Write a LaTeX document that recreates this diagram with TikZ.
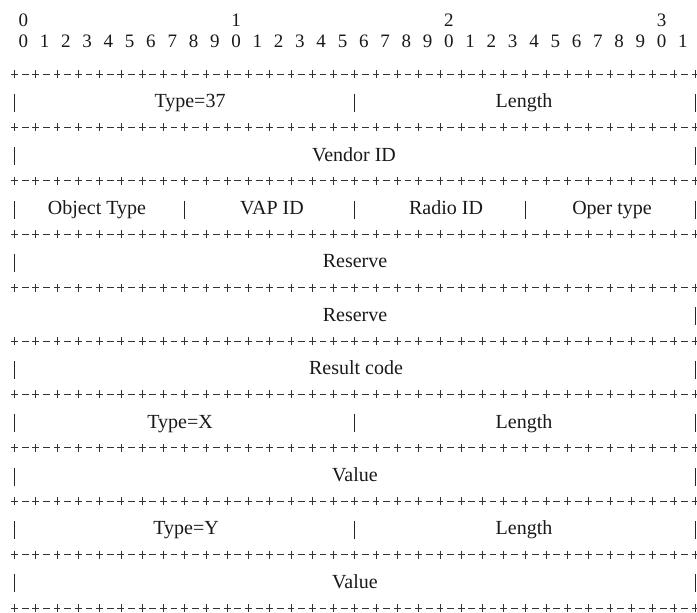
\documentclass[tikz,border=0pt]{standalone}
\usepackage{fontspec}
\setmainfont{Liberation Serif}
\begin{document}
\begin{tikzpicture}[x=1pt,y=-1pt,
  sepline/.style={line width=0.65pt,black!80},
  vbar/.style={line width=0.9pt,black!85},
  lbl/.style={inner sep=0pt,anchor=base,font=\fontsize{20}{24}\selectfont,text=black!90},
  dig/.style={inner sep=0pt,anchor=base,font=\fontsize{19}{22}\selectfont,text=black!90}]
\useasboundingbox (0,0) rectangle (697,613);
% bit numbers
\foreach \j in {0,...,31}{
  \pgfmathtruncatemacro\d{mod(\j,10)}
  \node[dig] (d\j) at ({23.3+21.28*\j},47.5) {\d};
}
\node[dig] (t0) at (23.3,27) {0};
\node[dig] (t1) at ({23.3+21.28*10},27) {1};
\node[dig] (t2) at ({23.3+21.28*20},27) {2};
\node[dig] (t3) at ({23.3+21.28*30},27) {3};
% separator lines
\foreach \k in {0,...,10}{
  \pgfmathsetmacro\yy{74+53.4*\k}
  \foreach \i in {0,...,32}{
    \pgfmathsetmacro\xx{14.5+21.27*\i}
    \draw[sepline] (\xx-3.4,\yy) -- (\xx+3.4,\yy) (\xx,\yy-4) -- (\xx,\yy+4);
  }
  \foreach \i in {0,...,31}{
    \pgfmathsetmacro\xx{14.5+21.27*\i+10.635}
    \draw[sepline] (\xx-3.4,\yy) -- (\xx+3.4,\yy);
  }
}
% vertical bars: row k mid = 100.7+53.4k
\def\bar#1#2{\draw[vbar] ({14.5+21.27*#1},{100.7+53.4*#2-7}) -- ({14.5+21.27*#1},{100.7+53.4*#2+11});}
\foreach \k in {0,1,2,3,5,6,7,8,9}{ \bar{0}{\k} }
\foreach \k in {0,1,2,4,5,6,7,8,9}{ \bar{32}{\k} }
\bar{16}{0} \bar{16}{6} \bar{16}{8}
\bar{8}{2} \bar{16}{2} \bar{24}{2}
% labels (baseline = mid + 7)
\node[lbl] (type37) at (190,{100.7+7}) {Type=37};
\node[lbl] (len1) at (524,{100.7+7}) {Length};
\node[lbl] (vendor) at (354,{154.1+7}) {Vendor ID};
\node[lbl] (objtype) at (97,{207.5+7}) {Object Type};
\node[lbl] (vapid) at (272,{207.5+7}) {VAP ID};
\node[lbl] (radioid) at (446,{207.5+7}) {Radio ID};
\node[lbl] (opertype) at (612,{207.5+7}) {Oper type};
\node[lbl] (res1) at (355,{260.9+7}) {Reserve};
\node[lbl] (res2) at (355,{314.3+7}) {Reserve};
\node[lbl] (result) at (356,{367.7+7}) {Result code};
\node[lbl] (typex) at (180,{421.1+7}) {Type=X};
\node[lbl] (len2) at (524,{421.1+7}) {Length};
\node[lbl] (val1) at (355,{474.5+7}) {Value};
\node[lbl] (typey) at (186,{527.9+7}) {Type=Y};
\node[lbl] (len3) at (524,{527.9+7}) {Length};
\node[lbl] (val2) at (355,{581.3+7}) {Value};
\end{tikzpicture}
\end{document}
